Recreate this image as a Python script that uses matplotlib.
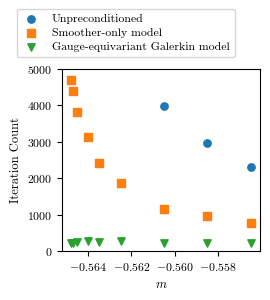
import numpy as np
import matplotlib
matplotlib.use("Agg")
import matplotlib.pyplot as plt

plt.rcParams["font.family"] = "serif"
plt.rcParams["font.serif"] = ["cmr10"]
plt.rcParams["mathtext.fontset"] = "cm"
plt.rcParams["axes.formatter.use_mathtext"] = True
plt.rcParams["axes.unicode_minus"] = True

# data
m_unprec = [-0.5605, -0.5585, -0.5565]
it_unprec = [3975, 2955, 2310]

m_model = [-0.5648, -0.5647, -0.5645, -0.5640, -0.5635, -0.5625,
           -0.5605, -0.5585, -0.5565]
it_smoother = [4690, 4400, 3825, 3120, 2415, 1870, 1165, 955, 780]
it_galerkin = [220, 235, 260, 290, 260, 275, 225, 225, 215]

fig = plt.figure(figsize=(2.7, 3.0), dpi=100)
ax = fig.add_axes([0.23, 0.163, 0.733, 0.607])

ax.scatter(m_unprec, it_unprec, marker="o", s=28, color="#1f77b4",
           label="Unpreconditioned", zorder=3)
ax.scatter(m_model, it_smoother, marker="s", s=28, color="#ff7f0e",
           label="Smoother-only model", zorder=3)
ax.scatter(m_model, it_galerkin, marker="v", s=28, color="#2ca02c",
           label="Gauge-equivariant Galerkin model", zorder=3)

ax.set_xlim(-0.5652, -0.55607)
ax.set_ylim(0, 5000)
ax.set_xticks([-0.564, -0.562, -0.560, -0.558])
ax.set_xticklabels([r"$-0.564$", r"$-0.562$", r"$-0.560$", r"$-0.558$"])
ax.set_yticks([0, 1000, 2000, 3000, 4000, 5000])
ax.tick_params(labelsize=8.5, length=3.5)
ax.set_xlabel(r"$m$", fontsize=9)
ax.set_ylabel("Iteration Count", fontsize=9)

fig.legend(loc="upper left", bbox_to_anchor=(0.04, 0.99), fontsize=8.5,
           frameon=True, handlelength=1.5, handletextpad=1.0,
           borderpad=0.45, labelspacing=0.3)

fig.savefig("out.png", dpi=100)
